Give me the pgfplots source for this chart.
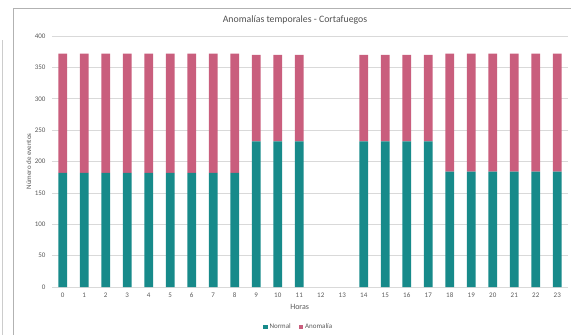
\documentclass[border=0pt]{standalone}
\usepackage{pgfplots}
\pgfplotsset{compat=1.18}
\usepackage{fontspec}
\setmainfont{Carlito}
\definecolor{normalc}{RGB}{23,138,138}
\definecolor{anomc}{RGB}{201,94,125}
\definecolor{txt}{RGB}{89,89,89}
\definecolor{gridc}{RGB}{217,217,217}
\begin{document}
\begin{tikzpicture}[x=1pt,y=1pt]
\useasboundingbox (-52,-48) rectangle (519,287);
% frame of the chart area
\draw[gray!60, line width=0.8pt] (-39,-48) -- (-39,279) -- (519,279);
\draw[gray!40, line width=0.8pt] (-50,-48) -- (-50,247);
\begin{axis}[
    at={(0,0)}, anchor=south west,
    scale only axis,
    width=516pt, height=251pt,
    ybar stacked,
    bar width=8.7pt,
    xmin=-0.5, xmax=23.5,
    ymin=0, ymax=400,
    xtick={0,...,23},
    ytick={0,50,...,400},
    ymajorgrids,
    grid style={gridc, line width=0.6pt},
    axis x line*=bottom,
    axis y line*=left,
    y axis line style={draw=none},
    x axis line style={gridc, line width=0.8pt},
    major tick length=0pt,
    tick label style={font=\fontsize{7}{8}\selectfont, text=txt},
    /pgf/number format/assume math mode=true,
    xticklabel style={yshift=-2pt},
    yticklabel style={xshift=-3pt},
    xlabel={Horas},
    xlabel style={at={(axis description cs:0.48,-0.08)}, anchor=center,
        font=\fontsize{8}{9}\selectfont, text=txt},
    ylabel={Número de eventos},
    ylabel style={at={(axis description cs:-0.045,0.5)}, anchor=center,
        font=\fontsize{7}{8}\selectfont, text=txt},
    every axis title shift=0pt,
    title={Anomalías temporales - Cortafuegos},
    title style={at={(axis description cs:0.471,1.064)}, anchor=center,
        font=\fontsize{9.8}{11}\selectfont, text=txt!90!black},
    legend style={at={(axis description cs:0.478,-0.159)}, anchor=center,
        draw=none, fill=none,
        legend columns=-1, font=\fontsize{7}{8}\selectfont, text=txt,
        /tikz/every even column/.append style={column sep=6pt}},
    legend image code/.code={\fill[#1] (0pt,-2.2pt) rectangle (4.4pt,2.2pt);},
]
\addplot[fill=normalc, draw=none] coordinates {
(0,182)(1,182)(2,182)(3,182)(4,182)(5,182)(6,182)(7,182)(8,182)
(9,232)(10,232)(11,232)
(14,232)(15,232)(16,232)(17,232)
(18,184)(19,184)(20,184)(21,184)(22,184)(23,184)};
\addplot[fill=anomc, draw=none] coordinates {
(0,190)(1,190)(2,190)(3,190)(4,190)(5,190)(6,190)(7,190)(8,190)
(9,138)(10,138)(11,138)
(14,138)(15,138)(16,138)(17,138)
(18,188)(19,188)(20,188)(21,188)(22,188)(23,188)};
\legend{Normal,Anomalía}
\end{axis}
\end{tikzpicture}
\end{document}
